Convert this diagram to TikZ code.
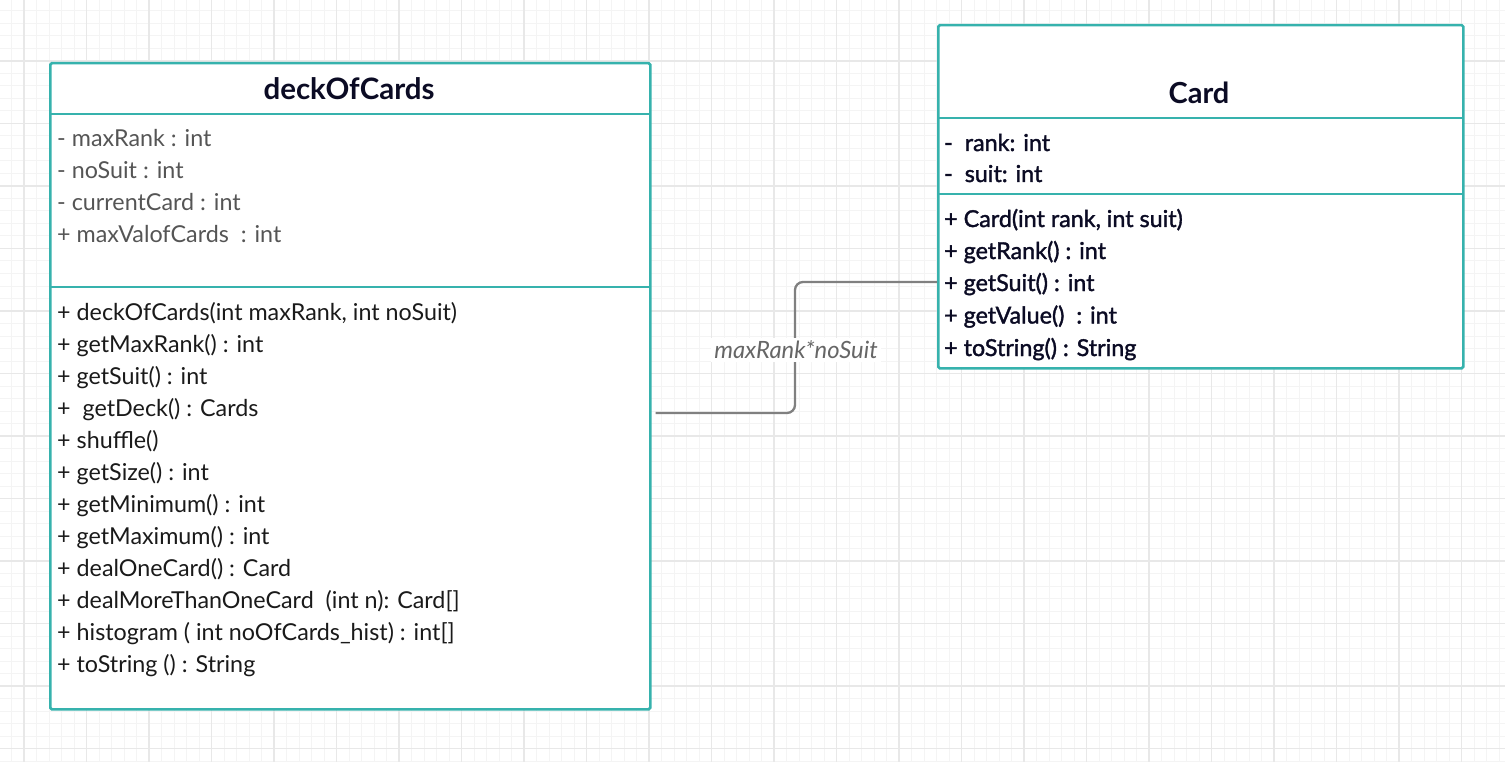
\documentclass[tikz,border=0pt]{standalone}
\usepackage{fontspec}
\setmainfont{Lato}
\newfontfamily\latobold{Lato Bold}
\newfontfamily\latosemi[FakeBold=1.5]{Lato}
\definecolor{teal1}{HTML}{36B2AD}
\definecolor{gridminor}{HTML}{F4F4F4}
\definecolor{gridmajor}{HTML}{E8E8E8}
\definecolor{attrgray}{HTML}{555555}
\definecolor{methblack}{HTML}{1A1A1A}
\definecolor{navy}{HTML}{0B0B24}
\definecolor{conngray}{HTML}{808080}
\definecolor{labgray}{HTML}{666666}
\begin{document}
\begin{tikzpicture}[x=1pt,y=-1pt,
  boxframe/.style={draw=teal1,line width=2.5pt,rounded corners=1.5pt},
  sepline/.style={draw=teal1,line width=2.5pt},
  attrtext/.style={anchor=base west,inner sep=0pt,font=\fontsize{23.3}{23.3}\selectfont,text=attrgray},
  methtext/.style={anchor=base west,inner sep=0pt,font=\fontsize{23.3}{23.3}\selectfont,text=methblack},
  cardtext/.style={anchor=base west,inner sep=0pt,font=\latosemi\fontsize{23.3}{23.3}\selectfont,text=navy},
  titletext/.style={anchor=base,inner sep=0pt,text=navy},
  conn/.style={draw=conngray,line width=2.3pt,rounded corners=8pt},
  minorg/.style={draw=gridminor,line width=1pt},
  majorg/.style={draw=gridmajor,line width=1.5pt}]
\useasboundingbox (0,0) rectangle (1505,762);
\fill[white] (0,0) rectangle (1505,762);
% grid
\foreach \i in {0,...,121} {\draw[minorg] ({11.6+\i*12.5},0) -- ({11.6+\i*12.5},762);}
\foreach \i in {0,...,61} {\draw[minorg] (0,{11+\i*12.5}) -- (1505,{11+\i*12.5});}
\foreach \i in {0,...,23} {\draw[majorg] ({24.1+\i*62.5},0) -- ({24.1+\i*62.5},762);}
\foreach \i in {0,...,12} {\draw[majorg] (0,{-1.5+\i*62.5}) -- (1505,{-1.5+\i*62.5});}
% deckOfCards box
\node[boxframe,fill=white,anchor=north west,minimum width=600pt,minimum height=646pt,inner sep=0pt] (deck) at (49,62) {};
\draw[sepline] (49,114) -- (649,114);
\draw[sepline] (49,287) -- (649,287);
\node[titletext,font=\latobold\fontsize{29.5}{29.5}\selectfont] (decktitle) at (349,100) {deckOfCards};
\node[attrtext] (a1) at (57,147) {- maxRank : int};
\node[attrtext] (a2) at (57,179) {- noSuit : int};
\node[attrtext] (a3) at (57,211) {- currentCard : int};
\node[attrtext] (a4) at (57,243) {+ maxValofCards\ \ : int};
\node[methtext] (m1) at (57,320) {+ deckOfCards(int maxRank, int noSuit)};
\node[methtext] (m2) at (57,352) {+ getMaxRank() : int};
\node[methtext] (m3) at (57,384) {+ getSuit() : int};
\node[methtext] (m4) at (57,416) {+ \ getDeck() : Cards};
\node[methtext] (m5) at (57,448) {+ shuffle()};
\node[methtext] (m6) at (57,480) {+ getSize() : int};
\node[methtext] (m7) at (57,512) {+ getMinimum() : int};
\node[methtext] (m8) at (57,544) {+ getMaximum() : int};
\node[methtext] (m9) at (57,576) {+ dealOneCard() : Card};
\node[methtext] (m10) at (57,608) {+ dealMoreThanOneCard\ \ (int n): Card[]};
\node[methtext] (m11) at (57,640) {+ histogram ( int noOfCards\_hist) : int[]};
\node[methtext] (m12) at (57,672) {+ toString () : String};
% Card box
\node[boxframe,fill=white,anchor=north west,minimum width=525pt,minimum height=343pt,inner sep=0pt] (card) at (937,24) {};
\draw[sepline] (937,118) -- (1462,118);
\draw[sepline] (937,194) -- (1462,194);
\node[titletext,font=\latobold\fontsize{29}{29}\selectfont] (cardtitle) at (1199,104) {Card};
\node[cardtext] (c1) at (944,151) {-\ \ rank: int};
\node[cardtext] (c2) at (944,182) {-\ \ suit: int};
\node[cardtext] (c3) at (944,227) {+ Card(int rank, int suit)};
\node[cardtext] (c4) at (944,259) {+ getRank() : int};
\node[cardtext] (c5) at (944,291) {+ getSuit() : int};
\node[cardtext] (c6) at (944,323.5) {+ getValue()\ \ : int};
\node[cardtext] (c7) at (944,356) {+ toString() : String};
% connector
\coordinate (s) at ([xshift=4pt]deck.east |- 0,413);
\coordinate (t) at (card.west |- 0,282);
\draw[conn] (s) -- (795,413) -- (795,282) -- (t);
\node[fill=white,inner sep=3pt,text=labgray,font=\itshape\fontsize{23.8}{23.8}\selectfont] (lab) at (796,350) {maxRank*noSuit};
\end{tikzpicture}
\end{document}
